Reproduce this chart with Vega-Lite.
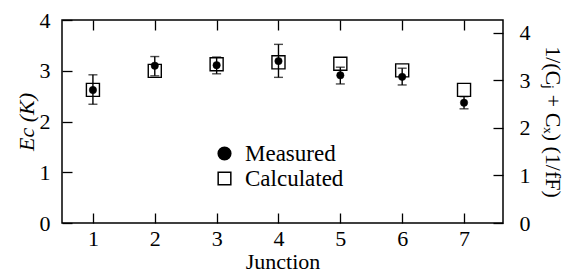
{
  "$schema": "https://vega.github.io/schema/vega-lite/v6.json",
  "width": 441,
  "height": 203,
  "autosize": {"type": "none"},
  "padding": {"left": 62, "top": 20, "right": 63, "bottom": 50},
  "background": "white",
  "config": {
    "view": {"stroke": "black", "strokeWidth": 1.5},
    "font": "Liberation Serif",
    "axis": {
      "labelFont": "Liberation Serif",
      "titleFont": "Liberation Serif",
      "labelFontSize": 22,
      "titleFontSize": 22,
      "labelColor": "black",
      "titleColor": "black",
      "titleFontWeight": "normal",
      "tickColor": "black",
      "domain": false,
      "grid": false,
      "tickSize": 10,
      "tickWidth": 1.3,
      "format": "d"
    },
    "legend": {
      "labelFont": "Liberation Serif",
      "labelFontSize": 23,
      "labelColor": "black"
    }
  },
  "datasets": {
    "measured": [
      {"junction": 1, "ec": 2.62, "lo": 2.34, "hi": 2.92, "series": "Measured"},
      {"junction": 2, "ec": 3.10, "lo": 2.90, "hi": 3.28, "series": "Measured"},
      {"junction": 3, "ec": 3.11, "lo": 2.94, "hi": 3.27, "series": "Measured"},
      {"junction": 4, "ec": 3.19, "lo": 2.87, "hi": 3.52, "series": "Measured"},
      {"junction": 5, "ec": 2.91, "lo": 2.74, "hi": 3.07, "series": "Measured"},
      {"junction": 6, "ec": 2.88, "lo": 2.72, "hi": 3.05, "series": "Measured"},
      {"junction": 7, "ec": 2.37, "lo": 2.25, "hi": 2.49, "series": "Measured"}
    ],
    "calculated": [
      {"junction": 1, "invc": 2.80, "series": "Calculated"},
      {"junction": 2, "invc": 3.20, "series": "Calculated"},
      {"junction": 3, "invc": 3.34, "series": "Calculated"},
      {"junction": 4, "invc": 3.38, "series": "Calculated"},
      {"junction": 5, "invc": 3.35, "series": "Calculated"},
      {"junction": 6, "invc": 3.21, "series": "Calculated"},
      {"junction": 7, "invc": 2.80, "series": "Calculated"}
    ]
  },
  "resolve": {"scale": {"y": "independent"}, "axis": {"x": "independent", "y": "independent"}},
  "layer": [
    {
      "data": {"name": "calculated"},
      "mark": {"type": "point", "filled": true, "stroke": "black", "strokeWidth": 1.4, "size": 170, "opacity": 1},
      "encoding": {
        "x": {"field": "junction", "type": "quantitative", "scale": {"domain": [0.5, 7.63], "nice": false, "zero": false},
              "axis": {"orient": "bottom", "values": [1,2,3,4,5,6,7], "title": "Junction", "tickSize": 0, "labelPadding": 5, "titlePadding": 2}},
        "y": {"field": "invc", "type": "quantitative", "scale": {"domain": [0, 4.27], "nice": false},
              "axis": {"orient": "right", "values": [0,1,2,3,4], "title": "1/(Cⱼ + Cₓ)  (1/fF)", "tickSize": 0, "labelPadding": 16, "titlePadding": 10}},
        "shape": {"field": "series", "type": "nominal", "scale": {"domain": ["Measured", "Calculated"], "range": ["circle", "square"]},
                  "legend": {"orient": "none", "legendX": 151, "legendY": 122, "title": null, "symbolSize": 160, "rowPadding": 1, "labelOffset": 9,
                             "encode": {"symbols": {"update": {"fill": {"signal": "datum.value === 'Measured' ? 'black' : 'white'"}, "fillOpacity": {"value": 1}, "stroke": {"value": "black"}, "strokeWidth": {"value": 1.3}, "strokeOpacity": {"value": 1}, "opacity": {"value": 1}}}}}},
        "fill": {"field": "series", "type": "nominal", "scale": {"domain": ["Measured", "Calculated"], "range": ["black", "white"]}, "legend": null}
      }
    },
    {
      "data": {"name": "measured"},
      "mark": {"type": "rule", "color": "black", "strokeWidth": 1.4},
      "encoding": {
        "x": {"field": "junction", "type": "quantitative", "axis": null},
        "y": {"field": "lo", "type": "quantitative", "scale": {"domain": [0, 4], "nice": false}, "axis": null},
        "y2": {"field": "hi"}
      }
    },
    {
      "data": {"name": "measured"},
      "mark": {"type": "tick", "orient": "horizontal", "color": "black", "size": 9, "thickness": 1.4},
      "encoding": {
        "x": {"field": "junction", "type": "quantitative", "axis": null},
        "y": {"field": "lo", "type": "quantitative", "scale": {"domain": [0, 4], "nice": false}, "axis": null}
      }
    },
    {
      "data": {"name": "measured"},
      "mark": {"type": "tick", "orient": "horizontal", "color": "black", "size": 9, "thickness": 1.4},
      "encoding": {
        "x": {"field": "junction", "type": "quantitative", "axis": null},
        "y": {"field": "hi", "type": "quantitative", "scale": {"domain": [0, 4], "nice": false}, "axis": null}
      }
    },
    {
      "data": {"name": "measured"},
      "mark": {"type": "point", "filled": true, "size": 55, "opacity": 1, "stroke": "black", "strokeWidth": 0.5},
      "encoding": {
        "x": {"field": "junction", "type": "quantitative",
              "axis": {"orient": "top", "offset": -203, "values": [1,2,3,4,5,6,7], "labels": false, "title": null}},
        "y": {"field": "ec", "type": "quantitative", "scale": {"domain": [0, 4], "nice": false},
              "axis": {"orient": "left", "values": [0,1,2,3,4], "title": "Ec (K)", "titleFontStyle": "italic", "tickSize": 0, "labelPadding": 12, "titlePadding": 1}},
        "shape": {"field": "series", "type": "nominal"},
        "fill": {"field": "series", "type": "nominal", "legend": null}
      }
    },
    {
      "data": {"name": "measured"},
      "mark": {"type": "point", "opacity": 0},
      "encoding": {
        "x": {"field": "junction", "type": "quantitative",
              "axis": {"orient": "bottom", "offset": -203, "values": [1,2,3,4,5,6,7], "labels": false, "title": null}},
        "y": {"field": "ec", "type": "quantitative", "scale": {"domain": [0, 4], "nice": false},
              "axis": {"orient": "right", "offset": -441, "values": [0,1,2,3,4], "labels": false, "title": null}}
      }
    },
    {
      "data": {"name": "calculated"},
      "mark": {"type": "point", "opacity": 0},
      "encoding": {
        "x": {"field": "junction", "type": "quantitative", "axis": null},
        "y": {"field": "invc", "type": "quantitative", "scale": {"domain": [0, 4.27], "nice": false},
              "axis": {"orient": "left", "offset": -441, "values": [0,1,2,3,4], "labels": false, "title": null}}
      }
    }
  ]
}
